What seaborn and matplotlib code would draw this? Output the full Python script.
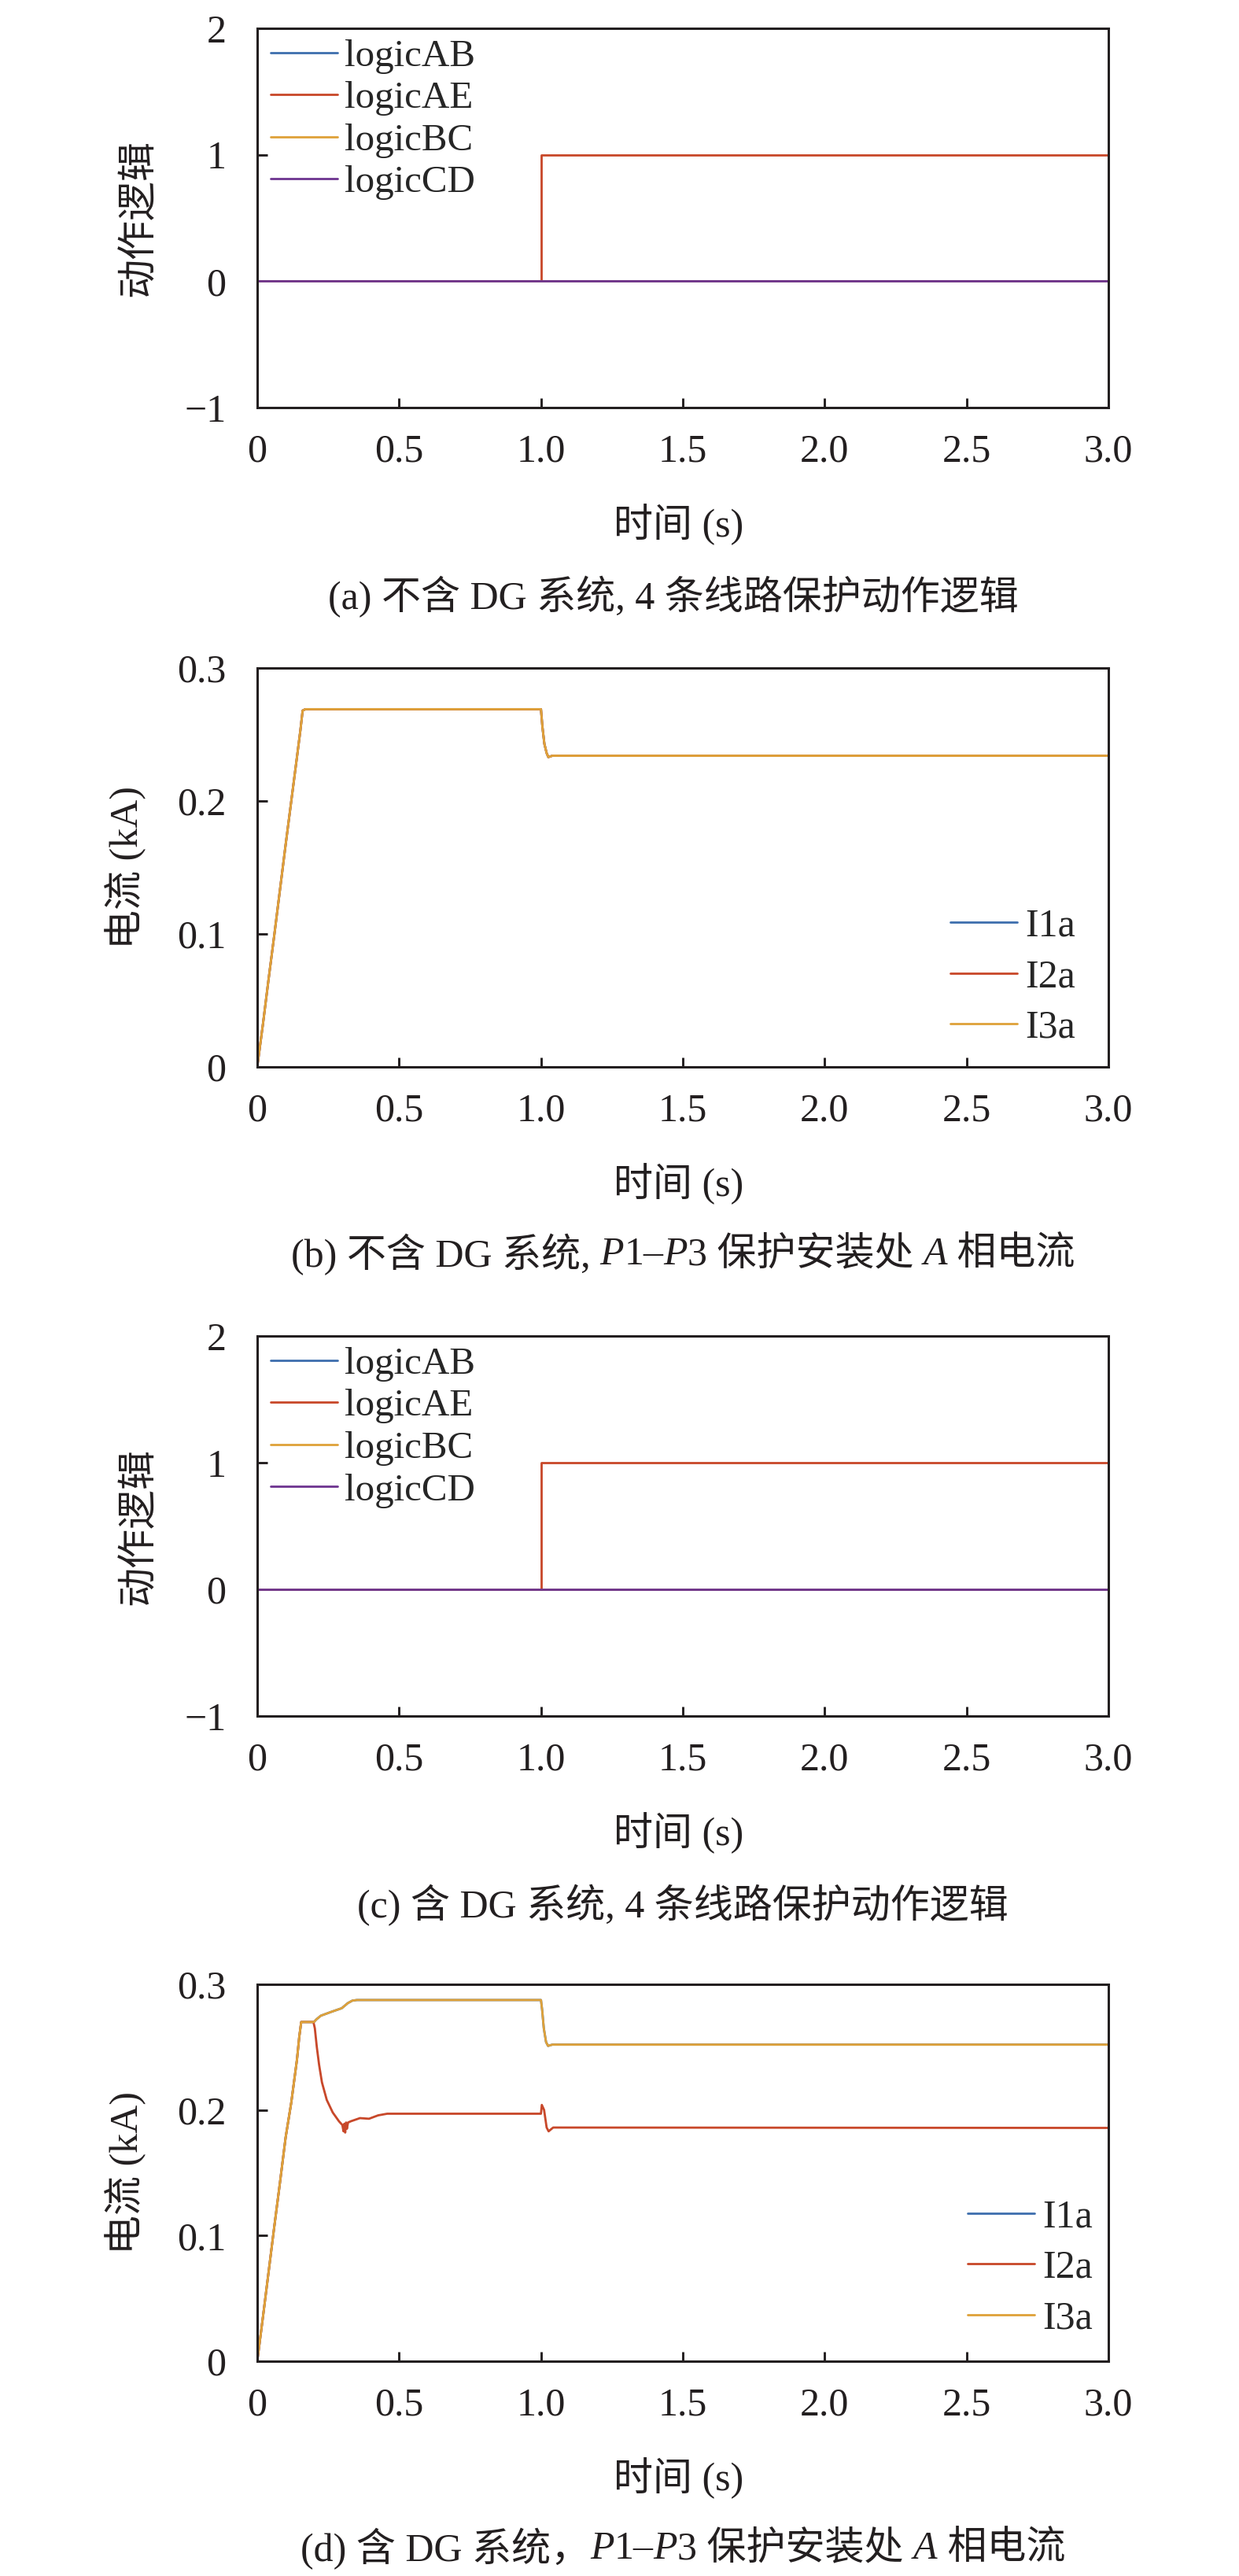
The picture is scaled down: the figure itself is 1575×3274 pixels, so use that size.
import numpy as np
import pandas as pd
import matplotlib
matplotlib.use("Agg")
import matplotlib.pyplot as plt
import seaborn as sns

# ---------------- data ----------------
# (a)/(c) protection action logic (same in both panels)
t_logic = [0.0, 1.0, 1.0, 3.0]
logicAB = [0, 0, 0, 0]
logicAE = [0, 0, 1, 1]
logicBC = [0, 0, 0, 0]
logicCD = [0, 0, 0, 0]
logic_names = ["logicAB", "logicAE", "logicBC", "logicCD"]

# (b) without DG: A-phase current at P1-P3 (all three coincide)
t_b = [0.0, 0.02, 0.04, 0.06, 0.08, 0.10, 0.12, 0.14, 0.152, 0.160, 0.17,
       1.0, 1.005, 1.012, 1.020, 1.026, 1.04, 3.0]
I1a_b = [0.0, 0.032, 0.066, 0.099, 0.133, 0.167, 0.200, 0.233, 0.253, 0.268, 0.269,
         0.269, 0.256, 0.243, 0.236, 0.233, 0.234, 0.234]
I2a_b = I1a_b
I3a_b = I1a_b

# (d) with DG
t_d13 = [0.0, 0.02, 0.04, 0.06, 0.08, 0.10, 0.12, 0.14, 0.148, 0.155, 0.200, 0.208,
         0.224, 0.26, 0.298, 0.319, 0.335, 0.351, 0.40, 1.0, 1.004, 1.010, 1.018,
         1.025, 1.04, 3.0]
I1a_d = [0.0, 0.035, 0.071, 0.107, 0.142, 0.178, 0.206, 0.240, 0.258, 0.270, 0.270, 0.272,
         0.275, 0.278, 0.281, 0.285, 0.287, 0.2875, 0.2875, 0.2875, 0.280, 0.265, 0.254,
         0.251, 0.252, 0.252]
I3a_d = I1a_d
t_d2 = [0.0, 0.02, 0.04, 0.06, 0.08, 0.10, 0.12, 0.14, 0.148, 0.155, 0.198, 0.203,
        0.210, 0.218, 0.228, 0.245, 0.266, 0.288, 0.300, 0.304, 0.307, 0.310, 0.313, 0.316,
        0.320, 0.330, 0.362, 0.394, 0.426, 0.458, 1.0, 1.003, 1.011, 1.020, 1.027,
        1.043, 3.0]
I2a_d = [0.0, 0.035, 0.071, 0.107, 0.142, 0.178, 0.206, 0.240, 0.258, 0.270, 0.270, 0.265,
         0.250, 0.236, 0.222, 0.208, 0.198, 0.191, 0.188, 0.183, 0.189, 0.182, 0.190, 0.185,
         0.190, 0.191, 0.1935, 0.193, 0.1957, 0.197, 0.197, 0.204, 0.200, 0.186, 0.183,
         0.186, 0.1857]
current_names = ["I1a", "I2a", "I3a"]

x_ticks = [0, 0.5, 1.0, 1.5, 2.0, 2.5, 3.0]
x_ticklabels = ["0", "0.5", "1.0", "1.5", "2.0", "2.5", "3.0"]
logic_yticks = [-1, 0, 1, 2]
logic_yticklabels = ["\u22121", "0", "1", "2"]
cur_yticks = [0, 0.1, 0.2, 0.3]
cur_yticklabels = ["0", "0.1", "0.2", "0.3"]

# caption pieces: (text, style)
captions = [
    [("(a) 不含 DG 系统, 4 条线路保护动作逻辑", "normal")],
    [("(b) 不含 DG 系统, ", "normal"), ("P", "italic"), ("1–", "normal"), ("P", "italic"),
     ("3 保护安装处 ", "normal"), ("A", "italic"), (" 相电流", "normal")],
    [("(c) 含 DG 系统, 4 条线路保护动作逻辑", "normal")],
    [("(d) 含 DG 系统，", "normal"), ("P", "italic"), ("1–", "normal"), ("P", "italic"),
     ("3 保护安装处 ", "normal"), ("A", "italic"), (" 相电流", "normal")],
]

# ---------------- style ----------------
sns.set_style("ticks")
FAM = ["Liberation Serif", "Noto Sans CJK SC", "DejaVu Sans"]
plt.rcParams["font.family"] = FAM
plt.rcParams["axes.unicode_minus"] = True

C_BLUE = "#3F6FAE"
C_RED = "#C8482A"
C_YEL = "#DFA23A"
C_PUR = "#6E3590"
SPINE = "#231F20"

W_PX, H_PX, DPI = 1575, 3274, 150
fig = plt.figure(figsize=(W_PX / DPI, H_PX / DPI), dpi=DPI)
renderer = fig.canvas.get_renderer()

LEFT, RIGHT = 327, 1409
panels = [(36, 518), (849, 1356), (1698, 2181), (2522, 3001)]

def rect(top, bottom):
    return [LEFT / W_PX, 1 - bottom / H_PX, (RIGHT - LEFT) / W_PX, (bottom - top) / H_PX]

FS = 24
LW = 1.35

def style_axes(ax, yticks, yticklabels, ylim):
    ax.set_xlim(0, 3.0)
    ax.set_ylim(*ylim)
    ax.set_xticks(x_ticks)
    ax.set_xticklabels(x_ticklabels)
    ax.set_yticks(yticks)
    ax.set_yticklabels(yticklabels)
    ax.tick_params(axis="both", direction="in", length=6, width=1.4, colors=SPINE,
                   labelsize=FS, labelcolor="#231F20", top=False, right=False)
    ax.tick_params(axis="x", pad=16)
    ax.tick_params(axis="y", pad=19)
    for s in ax.spines.values():
        s.set_visible(True)
        s.set_linewidth(1.45)
        s.set_color(SPINE)
    ax.set_xlabel("")
    ax.set_ylabel("")

def fig_text(xpx, ypx, s, **kw):
    fig.text(xpx / W_PX, 1 - ypx / H_PX, s, ha="center", va="center",
             fontsize=FS, color="#231F20", **kw)

def _width(s, style):
    t1 = fig.text(0, 0, s + "|", fontsize=FS, fontstyle=style)
    t2 = fig.text(0, 0, "|", fontsize=FS, fontstyle=style)
    w = t1.get_window_extent(renderer).width - t2.get_window_extent(renderer).width
    t1.remove()
    t2.remove()
    return w

def rich_caption(xc, yc, pieces):
    widths = [_width(s, st) for s, st in pieces]
    x = xc - sum(widths) / 2
    for (s, st), w in zip(pieces, widths):
        fig.text(x / W_PX, 1 - yc / H_PX, s, ha="left", va="center", fontsize=FS,
                 fontstyle=st, color="#231F20")
        x += w

XC = (LEFT + RIGHT) / 2

# ----- logic panels (a), (c)
for idx in (0, 2):
    top, bottom = panels[idx]
    ax = fig.add_axes(rect(top, bottom))
    for vals, name, col in zip([logicAB, logicAE, logicBC, logicCD], logic_names,
                               [C_BLUE, C_RED, C_YEL, C_PUR]):
        sns.lineplot(x=t_logic, y=vals, ax=ax, color=col, label=name, linewidth=LW,
                     estimator=None, sort=False)
    style_axes(ax, logic_yticks, logic_yticklabels, (-1, 2))
    ax.legend(loc="upper left", bbox_to_anchor=(0.016, 0.972), frameon=False,
              fontsize=23.5, handlelength=1.72, handletextpad=0.2, labelspacing=0.19,
              borderpad=0, borderaxespad=0)
    fig_text(177, (top + bottom) / 2, "动作逻辑", rotation=90)
    fig_text(XC - 5, bottom + 149, "时间 (s)")
    rich_caption(XC - (12 if idx == 0 else 0), bottom + 241, captions[idx])

# ----- current panels (b), (d)
cur_sets = {
    1: [(t_b, I1a_b), (t_b, I2a_b), (t_b, I3a_b)],
    3: [(t_d13, I1a_d), (t_d2, I2a_d), (t_d13, I3a_d)],
}
leg_anchor = {1: (0.961, 0.052), 3: (0.9815, 0.064)}
for idx in (1, 3):
    top, bottom = panels[idx]
    ax = fig.add_axes(rect(top, bottom))
    for (tt, vals), name, col in zip(cur_sets[idx], current_names, [C_BLUE, C_RED, C_YEL]):
        sns.lineplot(x=tt, y=vals, ax=ax, color=col, label=name, linewidth=LW,
                     estimator=None, sort=False)
    style_axes(ax, cur_yticks, cur_yticklabels, (0, 0.3))
    ax.legend(loc="lower right", bbox_to_anchor=leg_anchor[idx], frameon=False,
              fontsize=FS, handlelength=1.7, handletextpad=0.2, labelspacing=0.36,
              borderpad=0, borderaxespad=0)
    fig_text(160, (top + bottom) / 2, "电流 (kA)", rotation=90)
    fig_text(XC - 5, bottom + 149, "时间 (s)")
    rich_caption(XC, bottom + 239, captions[idx])

fig.savefig("out.png", dpi=DPI, facecolor="white")
